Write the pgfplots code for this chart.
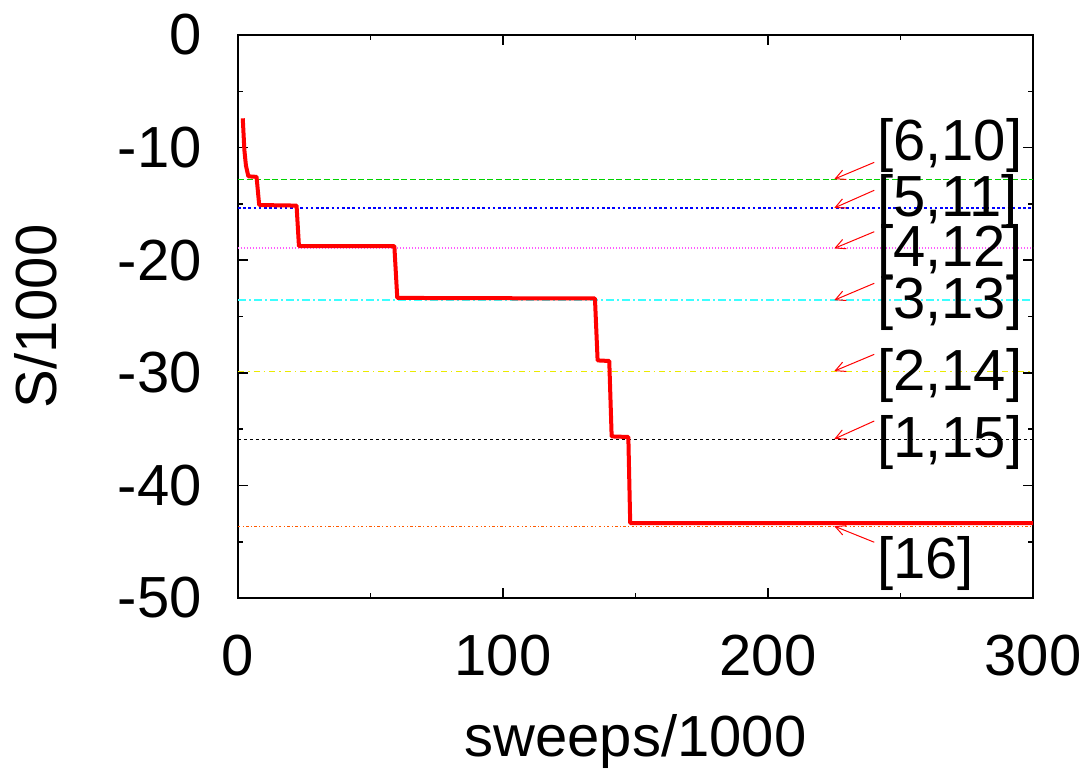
\documentclass[border=0pt]{standalone}
\usepackage{fontspec}
\setmainfont{Liberation Sans}
\usepackage{pgfplots}
\pgfplotsset{compat=1.18}
\usetikzlibrary{arrows.meta}
\definecolor{lgreen}{RGB}{0,210,0}
\definecolor{lmag}{RGB}{255,90,255}
\definecolor{lcyan}{RGB}{60,255,255}
\definecolor{lyel}{RGB}{235,235,0}
\definecolor{lorange}{RGB}{255,90,0}
\newcommand{\bigf}{\fontsize{29}{35}\selectfont}
\begin{document}
\begin{tikzpicture}
\begin{axis}[
  scale only axis,
  width=397.5pt, height=281.5pt,
  xmin=0, xmax=300, ymin=-50, ymax=0,
  clip=false,
  axis line style={line width=0.9pt, black},
  xtick={0,100,200,300}, xticklabels={0,100,200,300},
  ytick={-50,-40,-30,-20,-10,0}, yticklabels={-50,-40,-30,-20,-10,0},
  minor x tick num=1, minor y tick num=1,
  xtick pos=both, ytick pos=both,
  tick align=inside,
  major tick length=5pt, minor tick length=2.5pt,
  every tick/.style={black, line width=0.8pt},
  tick label style={font=\bigf, inner sep=0pt},
  xticklabel style={anchor=north, yshift=-18.5pt},
  yticklabel style={anchor=east, xshift=-18pt},
  xlabel={sweeps/1000}, ylabel={S/1000},
  label style={font=\bigf, inner sep=0pt},
  xlabel style={at={(axis description cs:0.5,-0.2824)}, anchor=base},
  ylabel style={at={(axis description cs:-0.2277,0.5)}, anchor=base},
]
% reference levels
\addplot[lgreen, line width=0.6pt, dash pattern=on 3pt off 1.3pt] coordinates {(0,-12.8) (300,-12.8)};
\addplot[blue, line width=0.7pt, dash pattern=on 1.3pt off 1.3pt] coordinates {(0,-15.36) (300,-15.36)};
\addplot[lmag, line width=0.9pt, dash pattern=on 0.6pt off 0.9pt] coordinates {(0,-18.95) (300,-18.95)};
\addplot[lcyan, line width=0.9pt, dash pattern=on 4pt off 1.5pt on 1pt off 1.5pt] coordinates {(0,-23.55) (300,-23.55)};
\addplot[lyel, line width=0.6pt, dash pattern=on 3pt off 2pt on 0.8pt off 2pt] coordinates {(0,-29.85) (300,-29.85)};
\addplot[black, line width=0.5pt, dash pattern=on 1.3pt off 1.7pt] coordinates {(0,-35.88) (300,-35.88)};
\addplot[lorange, line width=0.6pt, dash pattern=on 1.2pt off 1.2pt on 0.5pt off 1.2pt] coordinates {(0,-43.62) (300,-43.62)};
% entropy trace
\addplot[red, line width=2pt, line join=round] coordinates {
(1.8,-7.4) (2.4,-10.2) (3.0,-11.6) (3.9,-12.55) (7.0,-12.6) (8.0,-15.1)
(22.1,-15.15) (23.0,-18.75) (59.0,-18.75) (60.1,-23.35) (134.7,-23.4)
(135.7,-28.9) (140.1,-28.95) (141.0,-35.65) (147.3,-35.7) (148.0,-43.35) (300,-43.35)};
% annotations
\foreach \ty/\ly/\ny/\txt in {-11.31/-12.8/-9.84/{[6,10]}, -13.79/-15.36/-14.80/{[5,11]}, -17.47/-18.95/-19.24/{[4,12]}, -22.05/-23.55/-23.89/{[3,13]}, -28.36/-29.85/-30.26/{[2,14]}, -34.28/-35.88/-36.18/{[1,15]}, -45.05/-43.62/-46.92/{[16]}}{
  \edef\tmp{\noexpand\draw[red, line width=0.5pt, -{Straight Barb[length=5pt,width=5pt]}] (axis cs:240.1,\ty) -- (axis cs:225,\ly);
  \noexpand\node[anchor=west, inner sep=0pt, font=\noexpand\bigf] at (axis cs:241,\ny) {\txt};}
  \tmp
}
\end{axis}
\pgfresetboundingbox
\path (-119pt,-88.5pt) rectangle (423.5pt,299pt);
\end{tikzpicture}
\end{document}
